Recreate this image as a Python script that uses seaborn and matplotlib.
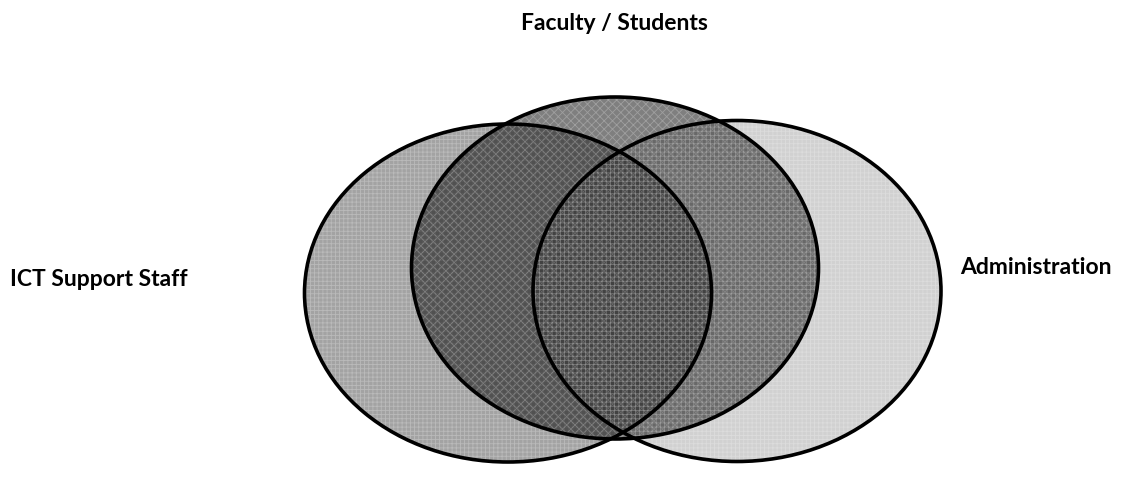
import matplotlib
matplotlib.use('Agg')
import matplotlib.pyplot as plt
from matplotlib.patches import Ellipse
import seaborn as sns

# Venn sets (drawn in this order)
set_names = ['ICT Support Staff', 'Faculty / Students', 'Administration']
# ellipse centres / sizes in pixel coords of the 1145x489 canvas
centers_x = [508, 615, 737]
centers_y = [294, 269, 292]
widths = [407, 407, 408]
heights = [338, 342, 341]
# darkness of each set's shading (alpha of black overlay)
shade = [0.36, 0.50, 0.18]
hatches = ['++++', 'xxxx', '++++']

label_x = [10, 614, 960]
label_y = [279, 23, 267]
label_ha = ['left', 'center', 'left']

sns.set_theme(style='white')
plt.rcParams['font.family'] = ['Lato', 'DejaVu Sans']
plt.rcParams['hatch.linewidth'] = 0.6

fig = plt.figure(figsize=(11.45, 4.89), dpi=100)
ax = fig.add_axes([0, 0, 1, 1])
ax.set_xlim(0, 1145)
ax.set_ylim(489, 0)
ax.set_aspect('equal')
ax.axis('off')

for cx, cy, w, h, a, ht in zip(centers_x, centers_y, widths, heights, shade, hatches):
    fill = Ellipse((cx, cy), w, h, facecolor=(0, 0, 0, a), edgecolor=(1, 1, 1, 0.25),
                   hatch=ht, linewidth=0)
    ax.add_patch(fill)

for cx, cy, w, h in zip(centers_x, centers_y, widths, heights):
    ax.add_patch(Ellipse((cx, cy), w, h, facecolor='none', edgecolor='black', linewidth=2.6))

for name, x, y, ha in zip(set_names, label_x, label_y, label_ha):
    ax.text(x, y, name, ha=ha, va='center', fontsize=16.5, fontweight='bold', color='black')

fig.savefig('out.png', dpi=100)
